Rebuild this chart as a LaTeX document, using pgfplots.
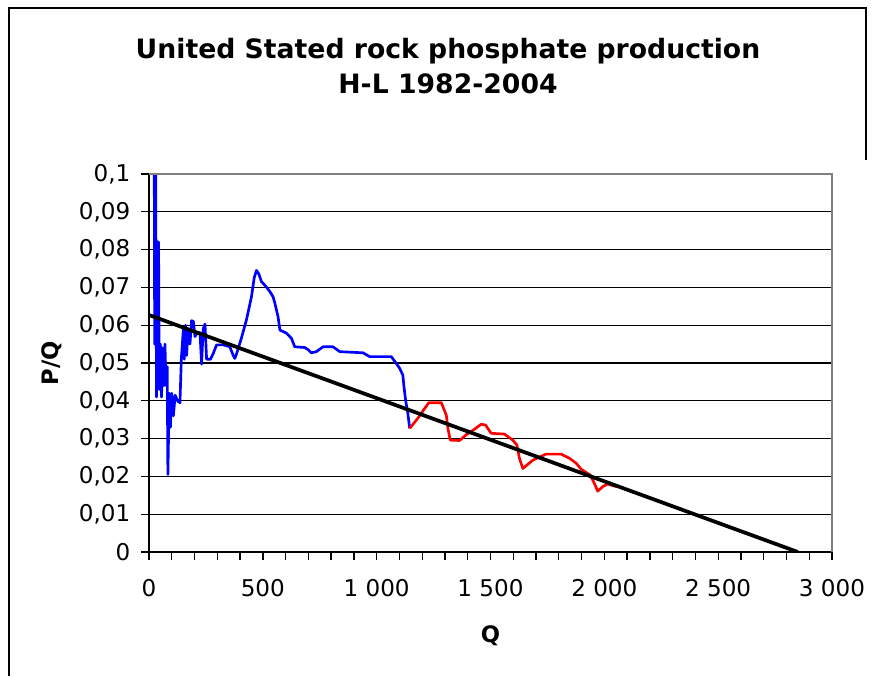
\documentclass[border=0pt]{standalone}
\usepackage{fontspec}
\setmainfont{DejaVu Sans}
\usepackage{pgfplots}
\pgfplotsset{compat=1.18}
\definecolor{bordergray}{RGB}{128,128,128}
\begin{document}
\begin{tikzpicture}
\useasboundingbox (0,0) rectangle (656.25pt,-507pt);
\draw[line width=1.5pt] (6.75pt,-507pt) -- (6.75pt,-6pt) -- (649.5pt,-6pt) -- (649.5pt,-120pt);
\node[font=\fontsize{20}{24}\selectfont\bfseries, anchor=base, inner sep=0pt] at (336pt,-43.5pt) {United Stated rock phosphate production};
\node[font=\fontsize{20}{24}\selectfont\bfseries, anchor=base, inner sep=0pt] at (336pt,-70.1pt) {H-L 1982-2004};
\begin{axis}[
  at={(111.75pt,-414pt)}, anchor=south west,
  scale only axis, width=512.25pt, height=283.5pt,
  xmin=0, xmax=3000, ymin=0, ymax=0.1,
  xtick={0,500,1000,1500,2000,2500,3000},
  xticklabels={0,500,1~000,1~500,2~000,2~500,3~000},
  minor x tick num=4,
  ytick={0,0.01,0.02,0.03,0.04,0.05,0.06,0.07,0.08,0.09,0.1},
  yticklabels={0,{0,01},{0,02},{0,03},{0,04},{0,05},{0,06},{0,07},{0,08},{0,09},{0,1}},
  tick align=outside, tick pos=left,
  major tick length=6pt, minor tick length=6pt,
  tick style={black, line width=1pt},
  ymajorgrids, major grid style={black, line width=1pt},
  axis line style={black, line width=1.3pt},
  tick label style={font=\fontsize{17.3}{20}\selectfont},
  xticklabel style={yshift=-11pt},
  yticklabel style={xshift=-4.5pt},
  xlabel={Q}, ylabel={P/Q},
  label style={font=\fontsize{17}{20}\selectfont\bfseries},
  xlabel style={at={(axis description cs:0.5,-0.222)}, anchor=center},
  ylabel style={at={(axis description cs:-0.142,0.5)}, anchor=center},
  extra description/.code={\draw[bordergray, line width=1.3pt] (0,1) -- (1,1) -- (1,0);},
]
\addplot[blue, line width=2pt, line join=round] coordinates {
(22,0.13) (25,0.055) (29,0.105) (33,0.041) (38,0.082) (42,0.082) (45,0.043)
(50,0.055) (55,0.041) (60,0.054) (65,0.044) (70,0.055) (75,0.044) (80,0.049)
(83,0.0205) (89,0.042) (94,0.033) (100,0.042) (107,0.036) (115,0.0415) (125,0.040)
(136,0.0395) (142,0.051) (151,0.059) (155,0.051) (160,0.060) (165,0.052) (172,0.059)
(180,0.055) (187,0.0612) (195,0.061) (202,0.057) (212,0.058) (224,0.058) (231,0.0497)
(238,0.059) (246,0.0603) (253,0.051) (260,0.051) (270,0.051) (282,0.0525) (297,0.0548)
(326,0.0548) (355,0.0543) (370,0.052) (377,0.0512) (385,0.0525) (406,0.0566) (428,0.0614)
(450,0.0675) (462,0.0725) (472,0.0745) (483,0.0735) (494,0.0715) (510,0.0705) (531,0.0689)
(545,0.0675) (553,0.0658) (567,0.0622) (575,0.0587) (590,0.0583) (604,0.0579) (626,0.0565)
(640,0.0543) (684,0.0541) (700,0.0535) (713,0.0527) (735,0.053) (765,0.0543) (808,0.0543)
(838,0.053) (940,0.0527) (969,0.0517) (1064,0.0517) (1086,0.0499) (1101,0.0486) (1115,0.0468)
(1120,0.0437) (1127,0.0402) (1137,0.0367) (1145,0.0327)
};
\addplot[red, line width=2pt, line join=round] coordinates {
(1145,0.0327) (1181,0.0354) (1211,0.038) (1229,0.0395) (1284,0.0395) (1306,0.0362)
(1313,0.0327) (1323,0.0296) (1364,0.0295) (1393,0.031) (1430,0.0325) (1459,0.0338)
(1478,0.0336) (1503,0.0314) (1561,0.0312) (1598,0.0296) (1616,0.0283) (1627,0.0248)
(1642,0.0221) (1686,0.0243) (1744,0.0259) (1810,0.0259) (1847,0.0248) (1876,0.0235)
(1898,0.0219) (1937,0.0204) (1956,0.0182) (1971,0.0161) (1993,0.0173) (2015,0.018)
(2051,0.0173)
};
\addplot[black, line width=2.8pt] coordinates {(0,0.0627) (2850,0)};
\end{axis}
\end{tikzpicture}
\end{document}
